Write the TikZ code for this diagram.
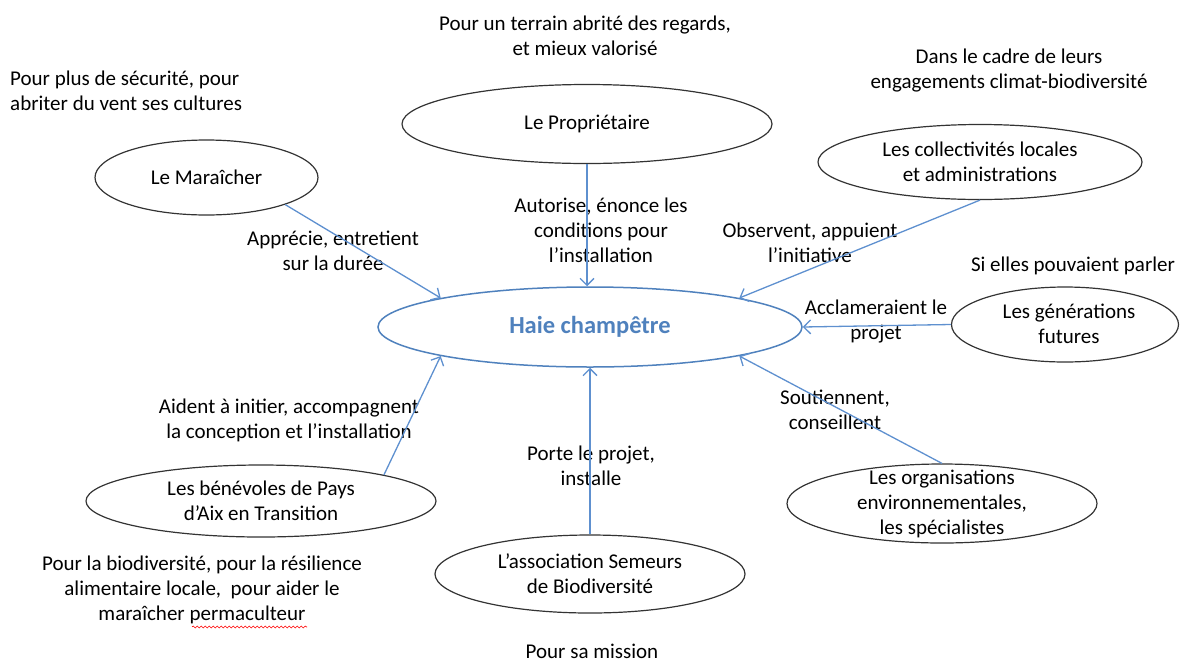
\documentclass[tikz,border=0pt]{standalone}
\usepackage{fontspec}
\setmainfont{Carlito}
\usetikzlibrary{arrows.meta,shapes.geometric,decorations.pathmorphing}
\definecolor{haieblue}{RGB}{79,129,189}
\definecolor{flecheblue}{RGB}{94,144,207}
\tikzset{>/.tip={Straight Barb[length=7pt,width=14pt]},
  bulle/.style={ellipse,draw=black!80,line width=1.2pt,inner sep=0pt},
  texte/.style={align=center,inner sep=0pt,font=\fontsize{21}{25}\selectfont},
  fleche/.style={->,draw=flecheblue,line width=1.3pt}}

\begin{document}
\begin{tikzpicture}[x=1pt,y=-1pt]
\useasboundingbox (0,0) rectangle (1180,662);

\node[bulle,minimum width=370pt,minimum height=79pt] (prop) at (587,124) {};
\node[texte] (propt) at (prop) {Le Propriétaire};
\node[bulle,minimum width=223pt,minimum height=75pt] (mar) at (206.5,177.5) {};
\node[texte] (mart) at (mar) {Le Maraîcher};
\node[bulle,minimum width=324pt,minimum height=75pt] (coll) at (980,162) {};
\node[texte] (collt) at (coll) {Les collectivités locales\\et administrations};
\node[bulle,draw=haieblue,line width=1.5pt,minimum width=424pt,minimum height=80pt] (haie) at (590,327) {};
\node[texte,font=\fontsize{24.5}{29}\selectfont\bfseries,text=haieblue] (haiet) at (haie) {Haie champêtre};
\node[bulle,minimum width=227pt,minimum height=75pt] (gen) at (1065,324.5) {};
\node[texte] (gent) at (1069,324) {Les générations\\futures};
\node[bulle,minimum width=350pt,minimum height=72pt] (ben) at (261,501) {};
\node[texte] (bent) at (ben) {Les bénévoles de Pays\\d’Aix en Transition};
\node[bulle,minimum width=310pt,minimum height=78pt] (sem) at (590,574) {};
\node[texte] (semt) at (sem) {L’association Semeurs\\de Biodiversité};
\node[bulle,minimum width=310pt,minimum height=79pt] (org) at (942,503.5) {};
\node[texte] (orgt) at (org) {Les organisations\\environnementales,\\les spécialistes};

\node[texte] (regards) at (585,36) {Pour un terrain abrité des regards,\\et mieux valorisé};
\node[texte,align=left,anchor=west] (securite) at (10,90.5) {Pour plus de sécurité, pour\\abriter du vent ses cultures};
\node[texte] (climat) at (1009,70.5) {Dans le cadre de leurs\\engagements climat-biodiversité};
\node[texte] (autorise) at (601,230) {Autorise, énonce les\\conditions pour\\l’installation};
\node[texte] (apprecie) at (333,250.5) {Apprécie, entretient\\sur la durée};
\node[texte] (observent) at (810,242.5) {Observent, appuient\\l’initiative};
\node[texte] (parler) at (1073,266) {Si elles pouvaient parler};
\node[texte] (acclament) at (876,321.5) {Acclameraient le\\projet};
\node[texte] (aident) at (289,420) {Aident à initier, accompagnent\\la conception et l’installation};
\node[texte] (soutiennent) at (835,410) {Soutiennent,\\conseillent};
\node[texte] (porte) at (591,466) {Porte le projet,\\installe};
\node[texte] (resilience) at (202,590) {Pour la biodiversité, pour la résilience\\alimentaire locale,~ pour aider le\\maraîcher permaculteur};
\node[texte] (mission) at (592,651) {Pour sa mission};

\draw[fleche] (mar.-19) to (haie.169);
\draw[fleche] (prop.south) to (prop.south |- haie.north);
\draw[fleche] (coll.south) to (haie.11);
\draw[fleche] (gen.west) to (haie.east);
\draw[fleche] (org.north) to (haie.-11);
\draw[fleche] (sem.north) to (haie.south);
\draw[fleche] (ben.12) to (haie.-169);

\draw[red,line width=0.6pt,decorate,decoration={snake,amplitude=1pt,segment length=4pt}] (192,627) -- (307,627);
\end{tikzpicture}
\end{document}
